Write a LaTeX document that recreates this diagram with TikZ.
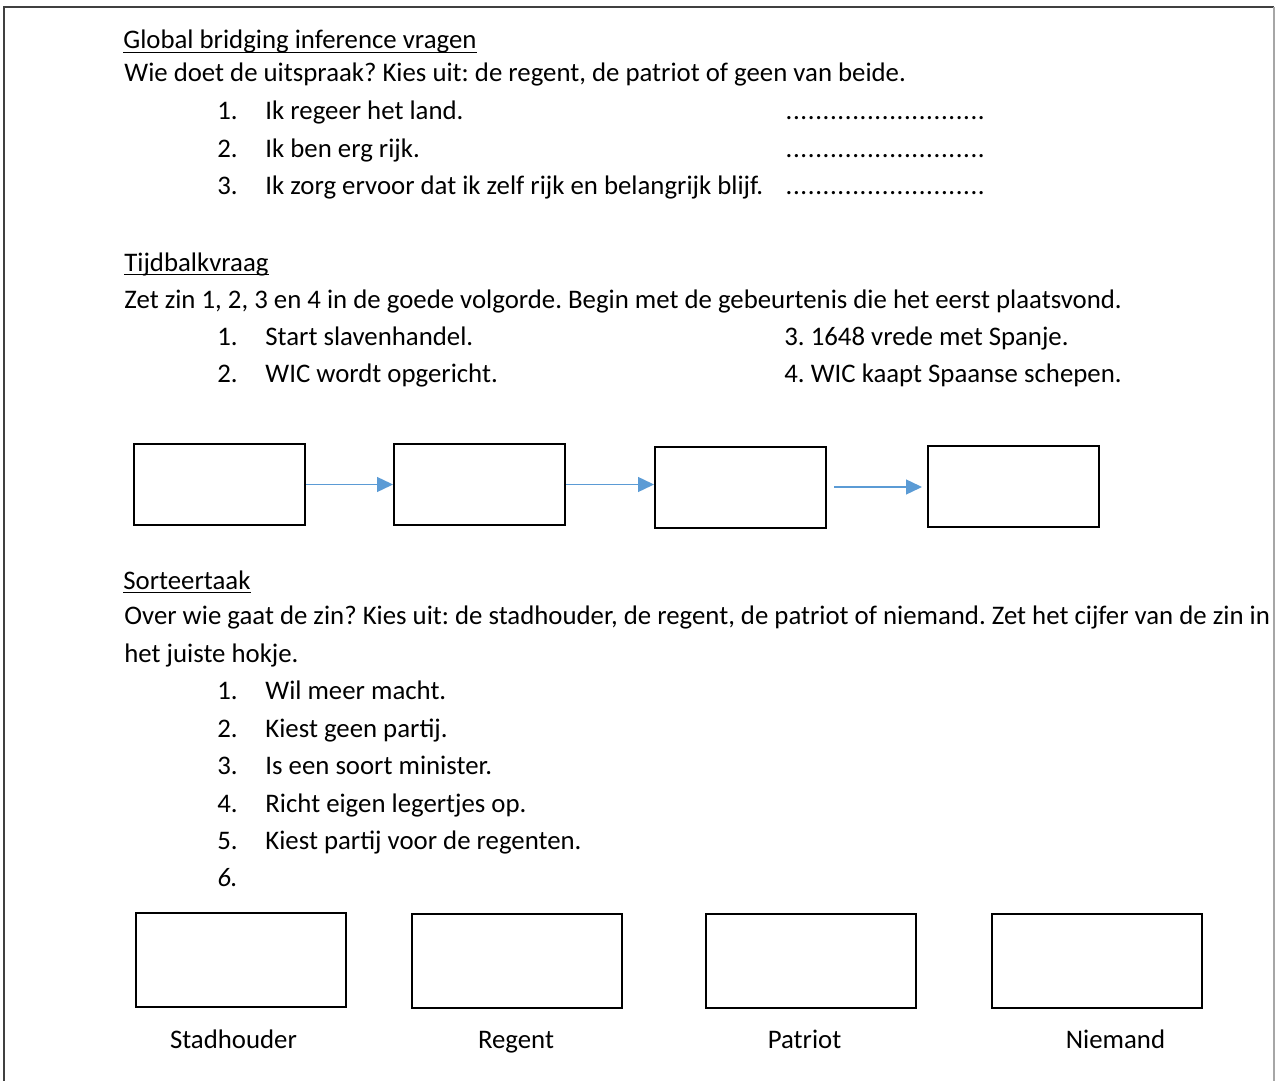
\documentclass[tikz,border=0pt]{standalone}
\usepackage{fontspec}
\setmainfont{Carlito}
\usetikzlibrary{arrows.meta}
\definecolor{pijlblauw}{HTML}{5B9BD5}
\newcommand{\stippels}{\hbox to 100pt{\xleaders\hbox to 3.7pt{\hss.\hss}\hfill}}
\tikzset{
  txt/.style={anchor=base west, inner sep=0pt},
  lbl/.style={anchor=base, inner sep=0pt},
  hokje/.style={draw, line width=1pt, inner sep=0pt, minimum width=85.5pt, minimum height=40.5pt},
  vak/.style={draw, line width=1pt, inner sep=0pt, minimum width=105pt, minimum height=47pt},
  pijl/.style={pijlblauw, line width=0.7pt, -{Triangle[length=8pt,width=7.5pt]}},
  onderstreep/.style={line width=0.6pt}
}
\begin{document}
\frenchspacing
\begin{tikzpicture}[x=0.5pt, y=-0.5pt, font=\fontsize{13.4pt}{16pt}\selectfont]
  \useasboundingbox (0,0) rectangle (1276,1081);
  % kader
  \draw[line width=1pt, black!75] (4,1081) -- (4,7) -- (1274,7);
  \draw[line width=0.8pt, black!35] (1274,7) -- (1274,1081);

  % deel 1
  \node[txt] (kop1) at (123,49) {Global bridging inference vragen};
  \draw[onderstreep] ([yshift=-1.6pt]kop1.base west) -- ([yshift=-1.6pt]kop1.base east);
  \node[txt] (vraag1) at (124,82) {Wie doet de uitspraak? Kies uit: de regent, de patriot of geen van beide.};
  \foreach \i/\y/\zin in {1/120/Ik regeer het land., 2/158/Ik ben erg rijk., 3/195/Ik zorg ervoor dat ik zelf rijk en belangrijk blijf.} {
    \node[txt] (nr1\i) at (217,\y) {\i.};
    \node[txt] (zin1\i) at (265,\y) {\zin};
    \node[txt] (stip\i) at (785,\y) {\stippels};
  }

  % deel 2
  \node[txt] (kop2) at (124,271) {Tijdbalkvraag};
  \draw[onderstreep] ([yshift=-1.6pt]kop2.base west) -- ([yshift=-1.6pt]kop2.base east);
  \node[txt] (vraag2) at (124,308) {Zet zin 1, 2, 3 en 4 in de goede volgorde. Begin met de gebeurtenis die het eerst plaatsvond.};
  \node[txt] (nr21) at (217,345) {1.};
  \node[txt] (zin21) at (265,345) {Start slavenhandel.};
  \node[txt] (nr22) at (217,382) {2.};
  \node[txt] (zin22) at (265,382) {WIC wordt opgericht.};
  \node[txt] (zin23) at (784,345) {3. 1648 vrede met Spanje.};
  \node[txt] (zin24) at (784,382) {4. WIC kaapt Spaanse schepen.};

  % tijdbalk
  \node[hokje] (b1) at (219.5,484.5) {};
  \node[hokje] (b2) at (479.5,484.5) {};
  \node[hokje] (b3) at (740.5,487) {};
  \node[hokje] (b4) at (1013.5,486.5) {};
  \draw[pijl] (b1.east) -- (b2.west);
  \draw[pijl] (b2.east) -- (b2.east -| b3.west);
  \draw[pijl, shorten <=3.5pt, shorten >=2.5pt] (b3.east) -- (b3.east -| b4.west);

  % deel 3
  \node[txt] (kop3) at (123,589) {Sorteertaak};
  \draw[onderstreep] ([yshift=-1.6pt]kop3.base west) -- ([yshift=-1.6pt]kop3.base east);
  \node[txt] (vraag3) at (124,624) {Over wie gaat de zin? Kies uit: de stadhouder, de regent, de patriot of niemand. Zet het cijfer van de zin in};
  \node[txt] (vraag3b) at (124,662) {het juiste hokje.};
  \foreach \i/\y/\zin in {1/699/Wil meer macht., 2/737/Kiest geen partij., 3/774/Is een soort minister., 4/812/Richt eigen legertjes op., 5/849/Kiest partij voor de regenten.} {
    \node[txt] (nr3\i) at (217,\y) {\i.};
    \node[txt] (zin3\i) at (265,\y) {\zin};
  }
  \node[txt] (nr36) at (217,886) {\itshape 6.};

  % hokjes
  \node[vak] (v1) at (241,960) {};
  \node[vak] (v2) at (517,961) {};
  \node[vak] (v3) at (811,961) {};
  \node[vak] (v4) at (1097,961) {};
  \node[lbl] (l1) at (233.5,1048) {Stadhouder};
  \node[lbl] (l2) at (516,1048) {Regent};
  \node[lbl] (l3) at (804.5,1048) {Patriot};
  \node[lbl] (l4) at (1115.5,1048) {Niemand};
\end{tikzpicture}
\end{document}
